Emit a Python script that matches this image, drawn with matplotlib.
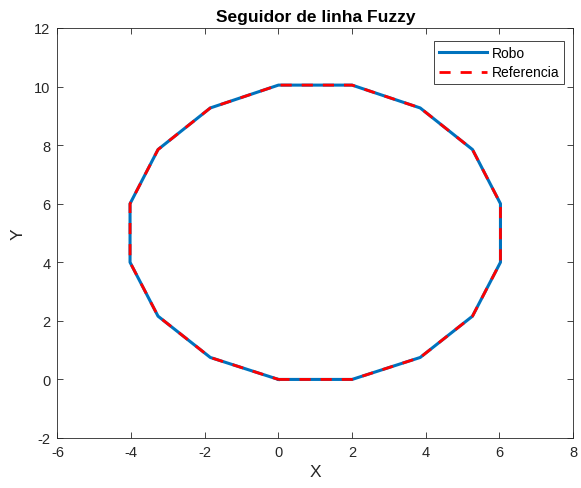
import matplotlib
matplotlib.use("Agg")
import matplotlib.pyplot as plt

plt.rcParams['font.family'] = ['Liberation Sans', 'DejaVu Sans']

robo_x = [0, 2, 3.85, 5.27, 6.03, 6.03, 5.27, 3.85, 2, 0, -1.85, -3.27, -4.03, -4.03, -3.27, -1.85, 0]
robo_y = [0, 0, 0.75, 2.16, 4.0, 6.0, 7.85, 9.27, 10.05, 10.05, 9.27, 7.85, 6.0, 4.0, 2.16, 0.75, 0]
ref_x = [0, 2, 3.85, 5.27, 6.03, 6.03, 5.27, 3.85, 2, 0, -1.85, -3.27, -4.03, -4.03, -3.27, -1.85, 0]
ref_y = [0, 0, 0.75, 2.16, 4.0, 6.0, 7.85, 9.27, 10.05, 10.05, 9.27, 7.85, 6.0, 4.0, 2.16, 0.75, 0]
xticks = [-6, -4, -2, 0, 2, 4, 6, 8]
yticks = [-2, 0, 2, 4, 6, 8, 10, 12]

W, H = 581, 489
fig = plt.figure(figsize=(W / 100, H / 100), dpi=100)
L, R, T, B = 57.5, 573, 29, 439
ax = fig.add_axes([L / W, 1 - B / H, (R - L) / W, (B - T) / H])
ax.plot(robo_x, robo_y, color='#0072BD', lw=2.2, label='Robo')
ax.plot(ref_x, ref_y, color='#FF0000', lw=2.0, ls=(0, (4.0, 3.6)), label='Referencia')
ax.set_xlim(-6, 8)
ax.set_ylim(-2, 12)
ax.set_xticks(xticks)
ax.set_yticks(yticks)
ax.set_xticklabels([str(v) for v in xticks])
ax.set_yticklabels([str(v) for v in yticks])
ax.tick_params(direction='in', length=4, width=0.6, top=True, right=True,
               labelsize=10.5, colors='#262626', pad=5)
for s in ax.spines.values():
    s.set_color('#262626')
    s.set_linewidth(0.6)
ax.set_xlabel('X', fontsize=12.5, color='#262626', labelpad=4)
ax.set_ylabel('Y', fontsize=12.5, color='#262626', labelpad=6)
ax.set_title('Seguidor de linha Fuzzy', fontsize=12.5, fontweight='bold', pad=5)
leg = ax.legend(loc='upper right', bbox_to_anchor=(564 / W, 1 - 42 / H),
                bbox_transform=fig.transFigure, borderaxespad=0,
                fontsize=10, handlelength=3.5, handletextpad=0.3,
                borderpad=0.35, labelspacing=0.4, fancybox=False, framealpha=1)
leg.get_frame().set_edgecolor('#262626')
leg.get_frame().set_linewidth(0.6)
fig.savefig('out.png', dpi=100)
